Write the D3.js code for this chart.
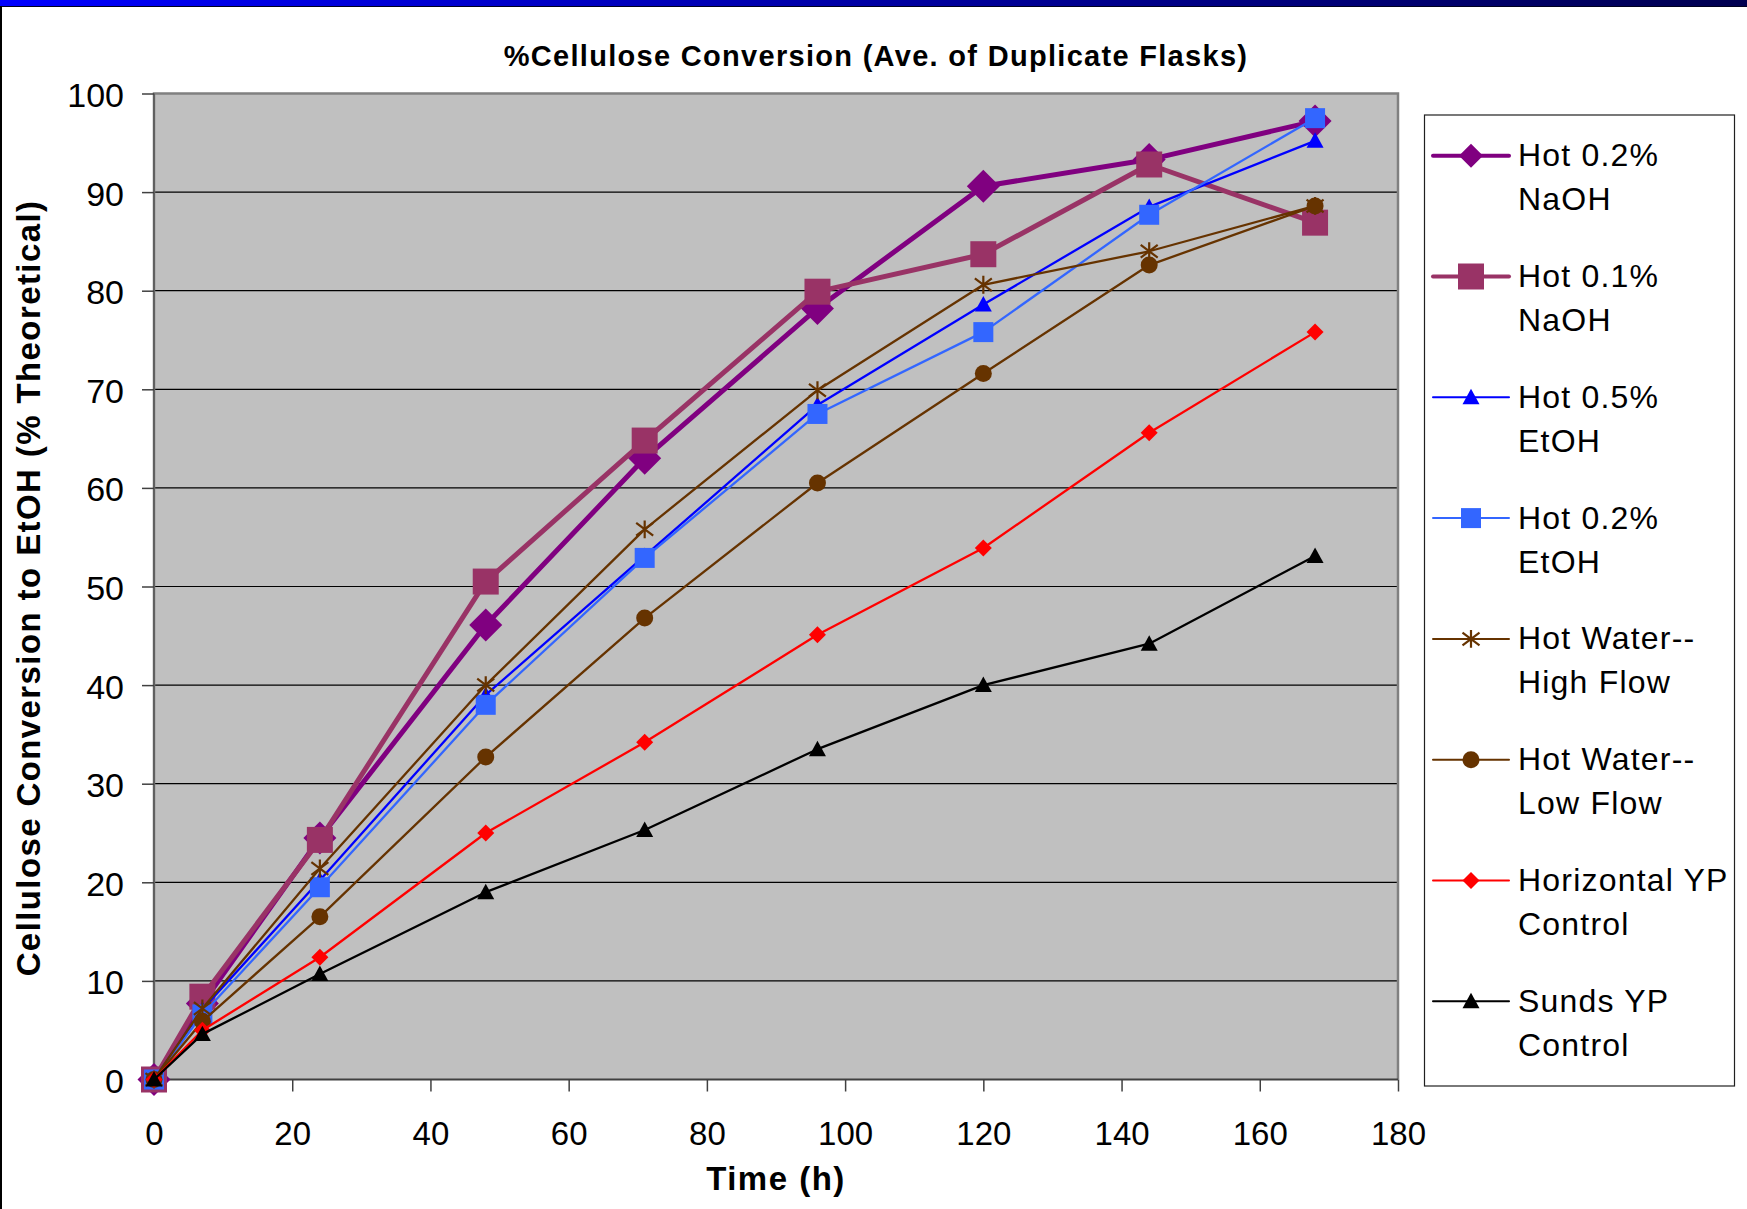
<html>
    <head>
        <script src="https://d3js.org/d3.v7.min.js"></script>
        <style>
            body {
                margin: 0;
                background: white;
            }
            text {
                font-family: "Liberation Sans", Arial, sans-serif;
                fill: black;
            }
            .grid {
                stroke: black;
                stroke-width: 1.2px;
            }
            .axis path {
                display: none;
            }
            .axis line {
                stroke: #404040;
                stroke-width: 1.5px;
            }
        </style>
    </head>

    <body>
        <svg id="chart" width="1747" height="1209"></svg>

        <script>
            // time points (h)
            const times = [0, 7, 24, 48, 71, 96, 120, 144, 168];

            // % cellulose conversion per series
            const naoh02 = [0, 7.7, 24.5, 46.1, 63.0, 78.2, 90.6, 93.3, 97.2];
            const naoh01 = [0, 8.4, 24.3, 50.5, 64.8, 79.9, 83.7, 92.8, 86.9];
            const etoh05 = [0, 7.1, 20.2, 39.0, 53.1, 68.4, 78.6, 88.5, 95.2];
            const etoh02 = [0, 6.6, 19.5, 38.0, 52.9, 67.5, 75.8, 87.7, 97.5];
            const waterHigh = [0, 7.2, 21.4, 40.0, 55.8, 69.9, 80.6, 84.0, 88.6];
            const waterLow = [0, 5.9, 16.5, 32.7, 46.8, 60.5, 71.6, 82.6, 88.6];
            const horizontal = [0, 5.0, 12.4, 25.0, 34.2, 45.1, 53.9, 65.6, 75.8];
            const sunds = [0, 4.6, 10.7, 19.0, 25.3, 33.5, 40.0, 44.2, 53.1];

            const legendLabels = [
                ["Hot 0.2%", "NaOH"],
                ["Hot 0.1%", "NaOH"],
                ["Hot 0.5%", "EtOH"],
                ["Hot 0.2%", "EtOH"],
                ["Hot Water--", "High Flow"],
                ["Hot Water--", "Low Flow"],
                ["Horizontal YP", "Control"],
                ["Sunds YP", "Control"]
            ];

            const xTicks = [0, 20, 40, 60, 80, 100, 120, 140, 160, 180];
            const yTicks = [0, 10, 20, 30, 40, 50, 60, 70, 80, 90, 100];

            const series = [
                {values: naoh02,     color: "#800080", width: 5,    marker: "diamond",  size: 33, legSize: 24},
                {values: naoh01,     color: "#993366", width: 5,    marker: "square",   size: 26, legSize: 26},
                {values: etoh05,     color: "#0000FF", width: 2.3,  marker: "triangle", size: 17, legSize: 17},
                {values: etoh02,     color: "#3366FF", width: 2.3,  marker: "square",   size: 20, legSize: 20},
                {values: waterHigh,  color: "#663300", width: 2.3,  marker: "star",     size: 17, legSize: 17},
                {values: waterLow,   color: "#663300", width: 2.3,  marker: "circle",   size: 17, legSize: 17},
                {values: horizontal, color: "#FF0000", width: 2.3,  marker: "diamond",  size: 17, legSize: 17},
                {values: sunds,      color: "#000000", width: 2.3,  marker: "triangle", size: 17, legSize: 17}
            ];

            const svg = d3.select("#chart");
            const margin = {top: 93.5, left: 154, right: 349, bottom: 129.5};
            const plotW = 1747 - margin.left - margin.right;
            const plotH = 1209 - margin.top - margin.bottom;

            // top banner
            const defs = svg.append("defs");
            const grad = defs.append("linearGradient").attr("id", "banner");
            grad.append("stop").attr("offset", "0%").attr("stop-color", "#0000ff");
            grad.append("stop").attr("offset", "55%").attr("stop-color", "#00009a");
            grad.append("stop").attr("offset", "100%").attr("stop-color", "#000050");
            svg.append("rect").attr("x", 0).attr("y", 0).attr("width", 1747).attr("height", 6)
               .style("fill", "url(#banner)");
            svg.append("line").attr("x1", 0).attr("x2", 1747).attr("y1", 6.5).attr("y2", 6.5)
               .style("stroke", "#000020").style("stroke-width", 1);
            svg.append("line").attr("x1", 1).attr("x2", 1).attr("y1", 6).attr("y2", 1209)
               .style("stroke", "black").style("stroke-width", 2);

            const x = d3.scaleLinear().domain([0, 180]).range([0, plotW]);
            const y = d3.scaleLinear().domain([0, 100]).range([plotH, 0]);

            const plot = svg.append("g")
                .attr("transform", "translate(" + margin.left + "," + margin.top + ")");

            plot.append("rect")
                .attr("width", plotW).attr("height", plotH)
                .style("fill", "#C0C0C0");

            plot.selectAll(".grid").data(yTicks.filter(d => d > 0 && d < 100)).enter()
                .append("line")
                .attr("class", "grid")
                .attr("x1", 0).attr("x2", plotW)
                .attr("y1", d => y(d)).attr("y2", d => y(d));

            // frame of the plot area
            plot.append("path")
                .attr("d", "M0," + plotH + "V0H" + plotW + "V" + plotH)
                .style("fill", "none").style("stroke", "#808080").style("stroke-width", 2.5);
            plot.append("line")
                .attr("x1", 0).attr("x2", 0).attr("y1", 0).attr("y2", plotH)
                .style("stroke", "#606060").style("stroke-width", 2);
            plot.append("line")
                .attr("x1", 0).attr("x2", plotW).attr("y1", plotH).attr("y2", plotH)
                .style("stroke", "#404040").style("stroke-width", 2);

            const yAxis = plot.append("g").attr("class", "axis")
                .call(d3.axisLeft(y).tickValues(yTicks).tickSize(12).tickPadding(18));
            yAxis.selectAll("text")
                .attr("dy", "0.38em")
                .style("font-size", "34px");

            const xAxis = plot.append("g").attr("class", "axis")
                .attr("transform", "translate(0," + plotH + ")")
                .call(d3.axisBottom(x).tickValues(xTicks).tickSize(12).tickPadding(30));
            xAxis.selectAll("text")
                .style("font-size", "33px");

            // marker shapes
            function markerPath(type, s) {
                const h = s / 2;
                if (type === "diamond") return "M0," + (-h) + "L" + h + ",0L0," + h + "L" + (-h) + ",0Z";
                if (type === "square") return "M" + (-h) + "," + (-h) + "H" + h + "V" + h + "H" + (-h) + "Z";
                if (type === "triangle") return "M0," + (-h) + "L" + h + "," + (h * 0.82) + "L" + (-h) + "," + (h * 0.82) + "Z";
                if (type === "star") return "M0," + (-h * 1.05) + "V" + (h * 1.05) +
                    "M" + (-h) + "," + (-h * 0.75) + "L" + h + "," + (h * 0.75) +
                    "M" + (-h) + "," + (h * 0.75) + "L" + h + "," + (-h * 0.75);
                return d3.symbol().type(d3.symbolCircle).size(Math.PI * h * h)();
            }

            function drawMarker(g, s, size) {
                const p = g.append("path").attr("d", markerPath(s.marker, size));
                if (s.marker === "star") {
                    p.style("fill", "none").style("stroke", s.color).style("stroke-width", 2.2);
                } else {
                    p.style("fill", s.color);
                }
            }

            const line = d3.line()
                .x((d, i) => x(times[i]))
                .y(d => y(d));

            series.forEach(s => {
                const g = plot.append("g");
                g.append("path")
                    .datum(s.values)
                    .attr("d", line)
                    .style("fill", "none")
                    .style("stroke", s.color)
                    .style("stroke-width", s.width)
                    .style("stroke-linejoin", "round");
                s.values.forEach((v, i) => {
                    const m = g.append("g")
                        .attr("transform", "translate(" + x(times[i]) + "," + y(v) + ")");
                    drawMarker(m, s, s.size);
                });
            });

            // title and axis titles
            svg.append("text")
                .attr("x", 876).attr("y", 66)
                .attr("text-anchor", "middle")
                .style("font-size", "29px").style("font-weight", "bold")
                .style("letter-spacing", "1.3px")
                .text("%Cellulose Conversion (Ave. of Duplicate Flasks)");

            svg.append("text")
                .attr("transform", "translate(40,588) rotate(-90)")
                .attr("text-anchor", "middle")
                .style("font-size", "33px").style("font-weight", "bold")
                .style("letter-spacing", "1.4px")
                .text("Cellulose Conversion to EtOH (% Theoretical)");

            svg.append("text")
                .attr("x", 776).attr("y", 1190)
                .attr("text-anchor", "middle")
                .style("font-size", "33px").style("font-weight", "bold")
                .style("letter-spacing", "1.5px")
                .text("Time (h)");

            // legend
            const legend = svg.append("g");
            legend.append("rect")
                .attr("x", 1424.5).attr("y", 115)
                .attr("width", 310).attr("height", 971)
                .style("fill", "white").style("stroke", "#202020").style("stroke-width", 1.2);

            series.forEach((s, i) => {
                const cy = 155.7 + i * 120.8;
                const item = legend.append("g");
                item.append("line")
                    .attr("x1", 1433).attr("x2", 1509)
                    .attr("y1", cy).attr("y2", cy)
                    .style("stroke", s.color)
                    .style("stroke-width", s.width > 3 ? 4 : 2)
                    .style("stroke-linecap", "round");
                const m = item.append("g").attr("transform", "translate(1471," + cy + ")");
                drawMarker(m, s, s.legSize);
                legendLabels[i].forEach((t, j) => {
                    item.append("text")
                        .attr("x", 1518).attr("y", cy + 10.5 + j * 44)
                        .style("font-size", "32px")
                        .style("letter-spacing", "1.2px")
                        .text(t);
                });
            });
        </script>
    </body>
</html>
